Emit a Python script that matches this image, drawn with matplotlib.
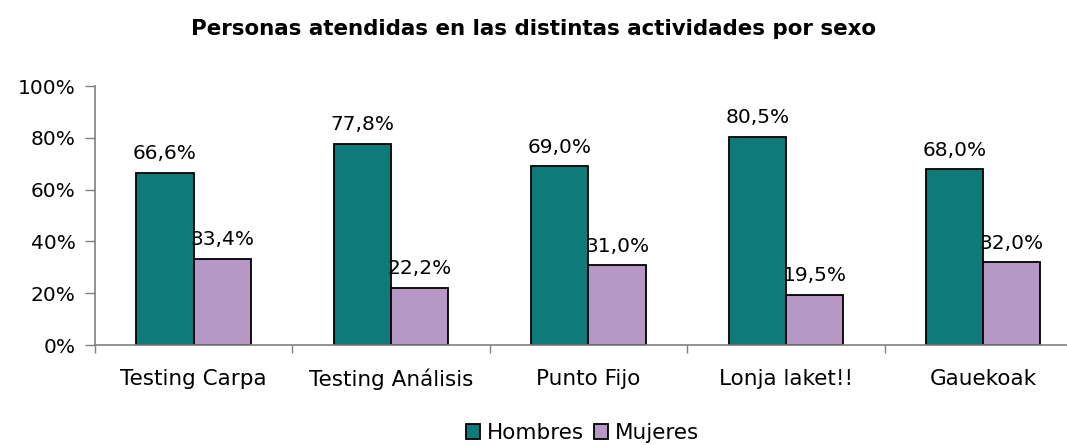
import matplotlib.pyplot as plt
import numpy as np

categorias = ['Testing Carpa', 'Testing Análisis', 'Punto Fijo', 'Lonja laket!!', 'Gauekoak']
hombres = [66.6, 77.8, 69.0, 80.5, 68.0]
mujeres = [33.4, 22.2, 31.0, 19.5, 32.0]
series = ['Hombres', 'Mujeres']
colores = ['#0E7B7A', '#B797C6']

plt.rcParams['font.family'] = 'DejaVu Sans'
fs = 14.5

fig = plt.figure(figsize=(10.67, 4.45), dpi=100)
ax = fig.add_axes([0.089, 0.2247, 0.925, 0.582])

x = np.arange(len(categorias))
w = 0.29
b1 = ax.bar(x - w / 2, hombres, w, color=colores[0], edgecolor='black', linewidth=1.3, label=series[0])
b2 = ax.bar(x + w / 2, mujeres, w, color=colores[1], edgecolor='black', linewidth=1.3, label=series[1])

for bars in (b1, b2):
    for r in bars:
        v = r.get_height()
        ax.text(r.get_x() + r.get_width() / 2, v + 3.5, '{:.1f}%'.format(v).replace('.', ','),
                ha='center', va='bottom', fontsize=fs)

ax.set_xlim(-0.5, len(categorias) - 0.5)
ax.set_ylim(0, 100)
ax.set_yticks(range(0, 101, 20))
ax.set_yticklabels(['{}%'.format(t) for t in range(0, 101, 20)])
ax.set_xticks(x)
ax.set_xticklabels(categorias)
ax.set_xticks(np.arange(-0.5, len(categorias)), minor=True)
ax.tick_params(axis='x', which='major', length=0, pad=17, labelsize=15.5)
ax.tick_params(axis='x', which='minor', length=6, width=1, color='#808080', direction='out')
ax.tick_params(axis='y', length=7, width=1, color='#808080', pad=7, labelsize=fs)

for s in ['top', 'right']:
    ax.spines[s].set_visible(False)
for s in ['left', 'bottom']:
    ax.spines[s].set_color('#808080')
    ax.spines[s].set_linewidth(1.2)

fig.text(0.5, 0.935, 'Personas atendidas en las distintas actividades por sexo',
         ha='center', va='center', fontsize=15.4, fontweight='bold')

fig.legend(loc='center', bbox_to_anchor=(0.546, 0.027), ncol=2, frameon=False,
           fontsize=15.5, handlelength=0.65, handleheight=0.65, handletextpad=0.3,
           columnspacing=0.5, borderaxespad=0)

fig.savefig('out.png', dpi=100)
